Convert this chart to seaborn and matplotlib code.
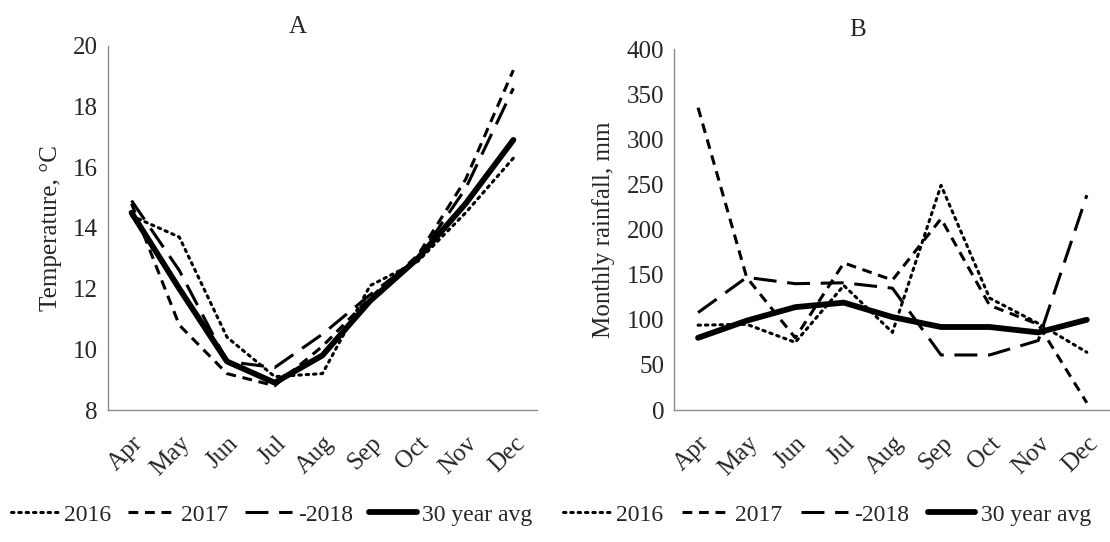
"""Monthly temperature and rainfall, 2016-2018 against the 30 year average."""
import pandas as pd
import matplotlib
matplotlib.use("Agg")
import matplotlib.pyplot as plt
import seaborn as sns

months = ["Apr", "May", "Jun", "Jul", "Aug", "Sep", "Oct", "Nov", "Dec"]
series_names = ["2016", "2017", "-2018", "30 year avg"]

# panel A: mean temperature, deg C
temp_2016 = [14.4, 13.7, 10.4, 9.1, 9.2, 12.1, 12.9, 14.5, 16.3]
temp_2017 = [14.8, 10.8, 9.2, 8.8, 10.1, 11.7, 13.1, 15.6, 19.2]
temp_2018 = [14.9, 12.6, 9.6, 9.4, 10.5, 11.8, 13.0, 15.3, 18.6]
temp_avg = [14.5, 12.0, 9.6, 8.9, 9.8, 11.6, 13.0, 14.8, 16.9]

# panel B: monthly rainfall, mm
rain_2016 = [94, 95, 75, 138, 86, 249, 124, 96, 64]
rain_2017 = [335, 147, 80, 163, 144, 212, 116, 95, 8]
rain_2018 = [108, 147, 140, 141, 135, 61, 61, 77, 238]
rain_avg = [80, 99, 114, 119, 103, 92, 92, 86, 100]

yticks_a = [8, 10, 12, 14, 16, 18, 20]
yticks_b = [0, 50, 100, 150, 200, 250, 300, 350, 400]

styles = {
    "2016": dict(lw=2.2, ls=(0, (0.8, 1.6)), dash_capstyle="round"),
    "2017": dict(lw=2.2, ls=(0, (3.2, 2.2))),
    "-2018": dict(lw=2.2, ls=(0, (7.5, 3.5))),
    "30 year avg": dict(lw=4.2, ls="-"),
}

sns.set_style("white")
plt.rcParams["font.family"] = ["Liberation Serif", "DejaVu Serif"]

fig = plt.figure(figsize=(11.1, 5.42), dpi=100)
ax_a = fig.add_axes([0.097, 0.2435, 0.387, 0.672])
ax_b = fig.add_axes([0.607, 0.2435, 0.394, 0.666])


def draw(ax, data, yticks, ylabel):
    for name, vals in zip(series_names, data):
        sns.lineplot(x=months, y=vals, ax=ax, sort=False, color="black",
                     label=name, legend=False, **styles[name])
    ax.set_xlim(-0.5, len(months) - 0.5)
    ax.set_ylim(yticks[0], yticks[-1])
    ax.set_yticks(yticks)
    ax.set_xticks(range(len(months)))
    ax.set_xticklabels(months, rotation=45, ha="right", rotation_mode="anchor")
    ax.tick_params(axis="both", length=0, labelsize=18, pad=7)
    ax.tick_params(axis="x", pad=16)
    ax.set_ylabel(ylabel, fontsize=18, labelpad=8)
    ax.set_xlabel("")
    for side in ["top", "right"]:
        ax.spines[side].set_visible(False)
    for side in ["left", "bottom"]:
        ax.spines[side].set_color("#8c8c8c")
        ax.spines[side].set_linewidth(1.0)
    ax.patch.set_alpha(0)


draw(ax_a, [temp_2016, temp_2017, temp_2018, temp_avg], yticks_a, "Temperature, °C")
draw(ax_b, [rain_2016, rain_2017, rain_2018, rain_avg], yticks_b, "Monthly rainfall, mm")

fig.text(0.268, 0.95, "A", ha="center", va="center", fontsize=18)
fig.text(0.773, 0.945, "B", ha="center", va="center", fontsize=18)

handles, labels = ax_a.get_legend_handles_labels()
fig.legend(handles, labels, loc="center", bbox_to_anchor=(0.245, 0.05), ncol=4,
           frameon=False, fontsize=17, handlelength=2.0, handletextpad=0.25,
           columnspacing=0.7)
handles, labels = ax_b.get_legend_handles_labels()
fig.legend(handles, labels, loc="center", bbox_to_anchor=(0.745, 0.05), ncol=4,
           frameon=False, fontsize=17, handlelength=2.0, handletextpad=0.25,
           columnspacing=0.8)

fig.savefig("out.png", dpi=100, facecolor="white")
